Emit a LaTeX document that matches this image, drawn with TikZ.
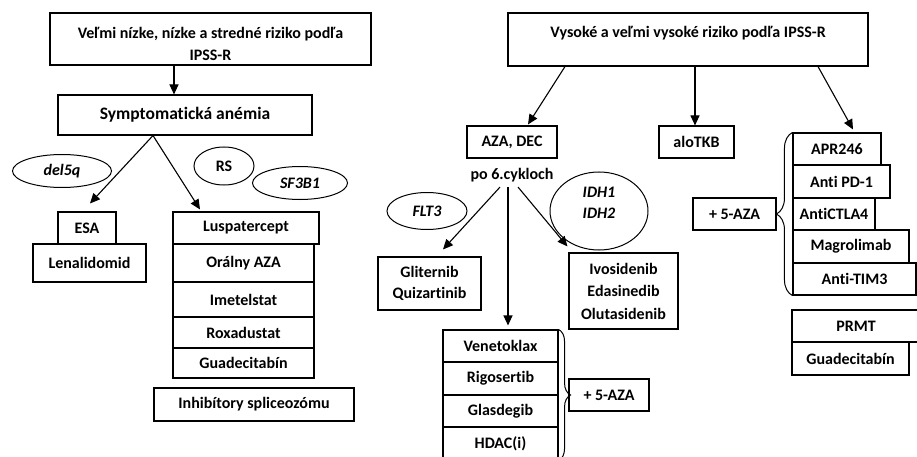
\documentclass[tikz,border=0pt]{standalone}
\usepackage{fontspec}
\setmainfont{Carlito}[Ligatures=NoCommon]
\usetikzlibrary{arrows.meta,shapes.geometric,decorations.pathreplacing}
\begin{document}
\begin{tikzpicture}[x=1pt,y=-1pt,
  txt/.style={font=\fontsize{16}{22}\selectfont\bfseries},
  box/.style={draw, line width=1.1pt, rectangle, inner sep=0pt, align=center, txt},
  sz/.style 2 args={minimum width=#1pt, minimum height=#2pt},
  ell/.style={draw, ellipse, line width=1pt, inner sep=0pt, align=center, font=\fontsize{16}{21}\selectfont\bfseries\itshape},
  lbl/.style={inner sep=0pt, align=center, txt},
  arr/.style={line width=1.1pt, -{Triangle[length=10pt,width=9pt]}},
  brc/.style={line width=1pt, decorate}
]
\clip (0,0) rectangle (917,457);
\fill[white] (0,0) rectangle (917,457);

% ---------- left part ----------
\node[box,sz={321}{52}] (top1) at (210.5,39) {};
\node[lbl] (top1t) at (210.5,44) {Veľmi nízke, nízke a stredné riziko podľa\\IPSS-R};
\node[box,sz={254}{40},font=\fontsize{17.5}{20}\selectfont\bfseries] (sym) at (185,115) {Symptomatická anémia};

\node[ell,sz={99}{33}] (del) at (62,171) {del5q};
\node[ell,sz={60}{38},font=\fontsize{16}{21}\selectfont\bfseries] (rs) at (224,166) {RS};
\node[ell,sz={95}{33}] (sf) at (300,183) {SF3B1};

\node[box,sz={58}{32}] (esa) at (87,228) {ESA};
\node[box,sz={113}{38}] (len) at (89.5,263) {Lenalidomid};

\node[box,sz={146}{32}] (lus) at (246,228) {Luspatercept};
\node[box,sz={141}{38}] (ora) at (243.5,263) {Orálny AZA};
\node[box,sz={141}{35}] (ime) at (243.5,299.5) {Imetelstat};
\node[box,sz={141}{31}] (rox) at (243.5,332.5) {Roxadustat};
\node[box,sz={141}{30}] (gua) at (243.5,363) {Guadecitabín};
\node[box,sz={200}{33}] (inh) at (254,404.5) {Inhibítory spliceozómu};

\draw[arr] ([xshift=-36.5pt]top1.south) -- ([xshift=-11pt]sym.north);
\draw[arr] ([xshift=-32pt]sym.south) -- ([xshift=3pt,yshift=8pt]esa.north);
\draw[arr] ([xshift=-32pt]sym.south) -- ([xshift=-46pt,yshift=2pt]lus.north);

% ---------- right part ----------
\node[box,sz={360}{53}] (top2) at (688,39.5) {};
\node[lbl] (top2t) at (688,33) {Vysoké a veľmi vysoké riziko podľa IPSS-R};

\node[box,sz={90}{32}] (aza) at (512,142) {AZA, DEC};
\node[lbl] (po) at (512,175) {po 6.cykloch};
\node[box,sz={75}{32}] (alo) at (696.5,142) {aloTKB};

\node[box,sz={88}{32}] (apr) at (837,149) {APR246};
\node[box,sz={97}{33}] (pd) at (841.5,181.5) {Anti PD-1};
\node[box,sz={82}{32}] (ctla) at (834,214) {AntiCTLA4};
\node[box,sz={116}{33}] (mag) at (851,246.5) {Magrolimab};
\node[box,sz={123}{32}] (tim) at (854.5,279) {Anti-TIM3};
\node[box,sz={83}{32}] (aza5a) at (734.5,214) {+ 5-AZA};

\node[box,sz={128}{32}] (prmt) at (856,326) {PRMT};
\node[box,sz={117}{33}] (gua2) at (850.5,358.5) {Guadecitabín};

\node[ell,sz={80}{37}] (flt) at (427,211) {FLT3};
\node[ell,sz={98}{78}] (idh) at (599,211) {};
\node[lbl,font=\fontsize{16}{20.5}\selectfont\bfseries\itshape] (idht) at (599,203) {IDH1\\IDH2};

\node[box,sz={103}{53},font=\fontsize{16}{20.5}\selectfont\bfseries] (gli) at (429.5,283.5) {Gliternib\\Quizartinib};
\node[box,sz={109}{76},font=\fontsize{16}{22.5}\selectfont\bfseries] (ivo) at (623.5,291) {Ivosidenib\\Edasinedib\\Olutasidenib};

\node[box,sz={115}{32}] (ven) at (500.5,346) {Venetoklax};
\node[box,sz={115}{33}] (rig) at (500.5,378.5) {Rigosertib};
\node[box,sz={115}{32}] (gla) at (500.5,411) {Glasdegib};
\node[box,sz={115}{33}] (hda) at (500.5,443.5) {HDAC(i)};
\node[box,sz={80}{32}] (aza5b) at (609,395) {+ 5-AZA};

\draw[arr] ([xshift=-123pt]top2.south) -- ([xshift=16pt,yshift=1pt]aza.north);
\draw[arr] ([xshift=7pt]top2.south) -- ([xshift=-1.5pt]alo.north);
\draw[arr] ([xshift=130pt]top2.south) -- ([xshift=16pt,yshift=3pt]apr.north);

\draw[arr] ([xshift=-12pt,yshift=-5pt]po.south) -- ([xshift=13.5pt,yshift=7pt]gli.north);
\draw[arr] ([xshift=-4pt,yshift=-5pt]po.south) -- ([xshift=7.5pt,yshift=4pt]ven.north);
\draw[arr] ([xshift=6pt,yshift=-5pt]po.south) -- ([xshift=-1pt,yshift=6pt]ivo.north west);

\draw[brc, decoration={brace, amplitude=12pt}] (ven.north east) -- (hda.south east);
\draw[brc, decoration={brace, amplitude=16pt}] (tim.south west) -- (apr.north west);
\end{tikzpicture}
\end{document}
